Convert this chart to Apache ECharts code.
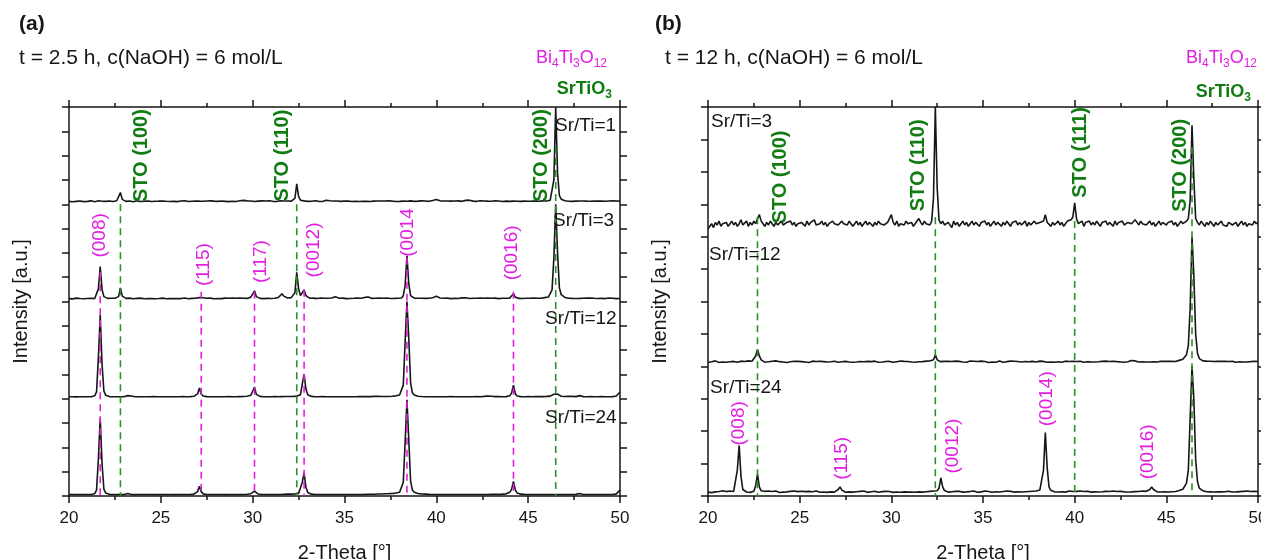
<!DOCTYPE html>
<html>
<head>
<meta charset="utf-8">
<script src="https://cdn.jsdelivr.net/npm/echarts@6/dist/echarts.min.js"></script>
<style>
  html, body { margin: 0; padding: 0; background: #fff; }
  #chart { width: 1261px; height: 560px; }
</style>
</head>
<body>
<div id="chart"></div>
<script>
// XRD patterns: 2-Theta from 20° to 50° in 0.1° steps.
// Intensities are given in % of the height of each stacked layer.
const START = 20, STEP = 0.1;

// (a) t = 2.5 h
const a_srti1 = [
  3,3.5,2.6,3.2,3,2.4,3.4,3.1,2.7,3.3,
  3,2.8,3.5,3.1,2.6,3.2,3.6,2.9,3.1,3.4,
  3,2.7,3.3,3.1,2.8,3.2,3.6,5.5,12,5,
  3.4,3,2.7,3.3,3.1,2.6,3.2,3.5,3,2.8,
  3.3,3.1,2.7,3.4,3,2.9,3.5,3.1,2.6,3.2,
  3,3.4,2.8,3.1,3.6,2.9,3.2,3,3.5,2.7,
  3.1,3.3,2.9,3.6,3,2.8,3.3,3.1,2.7,3.4,
  3,3.2,3.7,3.1,2.8,3.3,3,3.5,2.9,3.2,
  3.4,3,2.8,3.3,3.5,3,3.2,2.7,3.4,3.1,
  3.3,2.9,3.2,3.6,3.1,4,4.6,3.5,3,3.3,
  3.1,2.8,3.4,3.2,3,3.5,2.9,3.3,3.1,3.6,
  3.2,3,3.4,2.8,3.3,3.6,3.1,3.4,3.9,3.3,
  3.5,3.2,3.6,6,21,8,4.2,3.3,3.5,3.1,
  3,3.4,3.1,2.9,3.6,3.2,3,3.4,2.8,3.3,
  4.2,4.8,3.6,3.1,3.4,2.9,3.3,3.6,3,3.2,
  3.4,3,3.2,3.7,2.9,3.3,3.1,3.5,2.8,3.2,
  3.1,3.5,3,3.3,2.9,3.6,3.2,3,3.4,3.1,
  3.3,2.9,3.4,3.1,3.6,3,3.2,3.5,2.9,3.3,
  3,3.4,3.2,3.6,3.1,2.9,3.5,3.2,3,3.4,
  3.2,3,3.5,3.1,3.3,3.6,3,3.4,3.8,4.4,
  4.8,4.2,3.5,3.1,3.4,3,3.3,3.6,3.2,3,
  3.4,3.1,3.5,3.2,3,3.6,4,4.6,4.2,3.5,
  3.2,3.4,3,3.3,3.6,3.1,3.4,3,3.2,3.5,
  3.1,3.3,3.6,3,3.4,3.1,2.9,3.5,3.2,3.3,
  3,3.4,3.2,3.5,3.1,3.3,3,3.6,3.2,3.4,
  3.1,3.5,3.2,3,3.4,3.6,3.1,3.3,3.5,3.2,
  3.4,3.7,4.2,5.5,25,100,32,9,5.2,4,
  3.6,3.3,3.1,3.4,3,3.5,3.2,3,3.3,3.1,
  3.4,3,3.2,3.5,3.1,2.9,3.3,3.6,3.2,3,
  3.3,3.5,3.1,3,3.4,3.2,3.6,3.1,3.3,3,
  3.2
];
const a_srti3 = [
  3,3.4,2.7,3.2,3.5,2.9,3.1,3.4,2.8,3.3,
  3.1,2.9,3.4,3.2,3,4,13,36,12,5,
  3.6,3.2,3,3.4,3.1,3.3,3.6,5,14,5.5,
  3.8,3.2,3,3.5,3.1,2.8,3.4,3.2,3,3.5,
  3.2,2.9,3.4,3.1,3.6,3,3.3,2.8,3.4,3.1,
  3,3.5,3.2,2.9,3.4,3.1,3.6,3,3.3,3.1,
  3.4,3,3.2,3.6,3.1,2.9,3.5,3.2,3,3.4,
  3.2,4,5.5,3.8,3.1,3.4,3,3.5,3.2,2.9,
  3.4,3.1,3.6,3,3.3,3.5,3.1,3.4,3,3.6,
  3.2,3.4,3,3.5,3.1,3.3,3.6,3.2,3.8,4.5,
  5.5,11,5,3.6,3.2,3.4,3,3.5,3.2,3.4,
  3.1,3.5,3.3,3.6,4.2,5.5,8,5.5,4,3.6,
  3.4,4,5.5,9,30,13,6,9,12,6,
  4,3.4,3.1,3.5,3.2,3,3.4,3.6,3.1,3.3,
  3,3.4,3.2,3.6,4.2,5,4,3.3,3.1,3.5,
  3.2,3,3.4,3.1,3.5,3.3,3,3.6,3.2,3.4,
  3.6,4.2,5.2,4.6,3.6,3.2,3,3.4,3.1,3.5,
  3.2,3.4,3,3.6,3.3,3.1,3.5,3.2,3,3.4,
  3.3,3.6,6,16,47,18,6,4,3.5,3.2,
  3.4,3.1,3.3,3.6,3.2,3,3.4,3.5,3.9,4.5,
  5.5,4.5,3.6,3.2,3.4,3.1,3.5,3.2,3,3.4,
  3.2,3.5,3.1,3.4,3.7,4.3,3.8,3.3,3.1,3.5,
  3.3,3,3.4,3.2,3.6,3.1,3.3,3,3.5,3.2,
  3.4,3.1,3.5,3.2,3,3.6,3.3,3.1,3.4,3.2,
  3.5,5,8,4.5,3.6,3.2,3.4,3.1,3.5,3.3,
  3,3.4,3.2,3.6,3.1,3.4,3.7,3.3,3.6,4,
  4.2,4.6,6,12,45,100,50,14,7,5,
  4.2,3.8,3.4,3.6,3.2,3.5,3.1,3.4,3.2,3,
  3.4,3.1,3.5,3.2,3.6,3,3.3,3.5,3.1,3.4,
  3.2,3.5,3,3.3,3.6,3.1,3.4,3.2,3,3.3,
  3.1
];
const a_srti12 = [
  2,2,2.1,2,1.9,2,2.1,2,2,2.1,
  2,2,2.1,2,3,7,42,86,35,8,
  3.5,2.5,2.2,2.1,2,2.1,2,2,2.1,2,
  2.1,2.6,3.2,4,2.8,2.2,2.1,2,2,2.1,
  2,2.1,2,2,2.1,2,2.2,2.1,2,2,
  2.1,2,2,2.2,2.1,2,2,2.1,2,2.2,
  2.1,2,2.2,2.1,2,2.1,2.2,2.3,2.5,3,
  5,11,5,2.9,2.4,2.2,2.1,2,2.1,2,
  2,2.1,2.2,2,2.1,2,2.1,2.2,2,2.1,
  2.2,2,2.1,2.2,2.1,2.3,2.4,2.6,3,3.6,
  5,12,4.5,2.8,2.4,2.2,2.1,2,2.1,2.2,
  2.1,2,2.2,2.1,2,2.1,2.2,2.1,2.3,2.4,
  2.3,2.2,2.4,2.5,2.7,3,4,15,25,10,
  4,2.8,2.4,2.2,2.1,2,2.1,2,2.2,2.1,
  2,2.1,2,2.2,2.1,2,2.1,2,2.1,2.2,
  2.1,2,2.1,2.2,2,2.1,2,2.1,2.2,2.3,
  2.2,2.1,2.2,2.3,2.2,2.3,2.4,2.3,2.5,2.6,
  2.3,2.2,2.3,2.4,2.3,2.5,2.6,2.8,3,3.4,
  3.8,5,14,58,100,62,16,6,3.8,3,
  2.6,2.4,2.3,2.2,2.1,2.2,2.1,2,2.1,2.2,
  2.1,2,2.1,2.2,2,2.1,2,2.1,2.2,2,
  2.1,2.2,2,2.1,2,2.2,2.1,2,2.1,2.2,
  2,2.1,2.2,2,2.1,2.2,2.4,2.6,2.9,3.2,
  2.6,2.3,2.2,2.1,2.2,2.1,2,2.1,2.2,2.4,
  3,6,14,5,2.8,2.3,2.2,2.1,2,2.1,
  2.2,2.1,2,2.1,2.2,2.3,2.2,2.1,2.2,2.3,
  2.4,2.5,2.7,3.2,4.6,6,4.8,3.2,2.6,2.4,
  2.3,2.2,2.6,3.2,2.4,2.1,2.2,2.7,3.2,2.5,
  2.2,2.1,2,2.1,2.2,2,2.1,2.2,2,2.1,
  2.2,2,2.1,2.2,2,2.1,2.2,2.4,2.8,3.6,
  7
];
const a_srti24 = [
  1.5,1.4,1.5,1.6,1.5,1.4,1.5,1.5,1.6,1.5,
  1.5,1.4,1.5,1.6,2.4,6,38,80,33,7,
  3,2,1.7,1.6,1.5,1.5,1.6,1.5,1.4,1.5,
  1.6,1.9,2.5,2,1.6,1.5,1.4,1.5,1.6,1.5,
  1.5,1.6,1.5,1.4,1.5,1.6,1.5,1.5,1.4,1.6,
  1.5,1.4,1.6,1.5,1.5,1.7,1.6,1.5,1.4,1.5,
  1.6,1.5,1.5,1.4,1.6,1.5,1.6,1.7,1.9,2.4,
  4.5,10,4.5,2.2,1.8,1.6,1.5,1.5,1.6,1.5,
  1.4,1.5,1.6,1.5,1.5,1.4,1.6,1.5,1.5,1.6,
  1.5,1.6,1.5,1.4,1.5,1.6,1.7,1.8,2,2.4,
  3.2,5,3,2,1.7,1.6,1.5,1.6,1.5,1.5,
  1.6,1.5,1.4,1.5,1.6,1.5,1.6,1.7,1.8,1.9,
  1.8,1.9,2,2.1,2.3,2.7,3.8,14,24,9,
  3.5,2.3,1.9,1.7,1.6,1.5,1.6,1.5,1.5,1.6,
  1.5,1.6,1.5,1.4,1.6,1.5,1.5,1.6,1.5,1.4,
  1.5,1.6,1.5,1.5,1.6,1.7,1.6,1.5,1.6,1.7,
  1.6,1.7,1.8,1.7,1.8,1.9,1.8,2,2.1,2.2,
  2.1,2.2,2.3,2.2,2.4,2.5,2.6,2.8,3,3.4,
  3.8,5,14,55,99,58,15,6,3.8,3,
  2.6,2.3,2.1,2,1.9,1.8,1.7,1.7,1.6,1.6,
  1.5,1.6,1.5,1.6,1.5,1.4,1.6,1.5,1.5,1.6,
  1.5,1.4,1.5,1.6,1.5,1.6,1.5,1.4,1.5,1.6,
  1.5,1.6,1.5,1.5,1.6,1.5,1.6,1.7,1.6,1.8,
  1.7,1.6,1.7,1.8,1.7,1.8,1.9,2,2.2,2.6,
  3.8,7,15,6,3,2.2,1.9,1.8,1.7,1.6,
  1.6,1.5,1.6,1.5,1.6,1.5,1.6,1.7,1.6,1.5,
  1.6,1.5,1.6,1.7,1.6,1.5,1.6,1.5,1.6,1.5,
  1.6,1.5,1.5,1.6,1.5,1.6,1.7,2,2.5,1.9,
  1.6,1.5,1.6,1.5,1.5,1.6,1.5,1.5,1.6,1.5,
  1.5,1.6,1.5,1.5,1.6,1.5,1.6,1.8,2.2,3,
  6
];

// (b) t = 12 h
const b_srti3 = [
  6,8,10,7,11,9,12,8,10,9,
  11,8,10,12,9,11,8,10,13,9,
  10,12,8,11,9,12,10,14,17,12,
  10,8,11,9,12,10,8,11,9,10,
  12,9,8,11,10,12,9,11,8,10,
  9,11,10,8,12,9,11,10,13,9,
  8,10,12,9,11,8,10,9,12,10,
  11,9,8,12,10,11,9,12,10,8,
  10,12,9,11,8,10,12,9,11,10,
  8,11,9,12,10,11,9,10,11,12,
  17,11,9,12,8,10,11,9,12,10,
  9,11,8,10,11,14,11,9,12,10,
  11,9,12,30,100,38,13,10,12,9,
  8,11,10,7,12,9,11,8,10,12,
  9,11,8,10,12,9,11,10,8,11,
  10,12,9,11,8,10,12,9,11,10,
  8,11,9,12,10,8,11,10,12,9,
  11,9,10,12,8,11,9,10,12,10,
  9,11,10,12,17,11,10,8,11,9,
  10,12,9,11,8,10,12,11,13,15,
  26,14,10,9,12,8,11,10,12,9,
  11,9,12,10,8,11,10,12,9,11,
  10,8,12,9,11,10,12,9,8,11,
  12,10,9,13,11,9,12,10,11,9,
  10,12,9,11,8,10,12,9,11,10,
  9,11,10,12,9,11,8,10,12,10,
  11,12,14,28,86,45,14,11,9,12,
  10,8,11,9,12,10,8,11,9,10,
  12,9,10,8,11,12,9,10,11,8,
  10,12,9,11,8,10,11,9,12,10,
  11
];
const b_srti12 = [
  3,4,3.5,2.8,4.2,3.6,3,4,3.4,3.8,
  3.2,4.1,3.5,3,3.8,4.3,3.1,3.6,4,3.3,
  3.7,3.1,4.2,3.5,3.9,4.5,8,13,8,5,
  3.8,3.2,4,3.5,3,3.9,3.4,4.2,3.1,3.6,
  4,3.3,3.7,3,4.1,3.5,3.2,3.9,3.4,3.8,
  3.1,3.6,4.3,3.3,3.8,3,3.5,4,3.2,3.7,
  3.4,3.9,3.1,3.6,4.2,3.3,3.8,3.5,3,3.9,
  3.6,3.2,4,3.5,3.1,3.8,4.1,3.4,3.7,3.2,
  3.9,3.4,3,3.7,4.2,3.5,3.3,3.8,3.1,3.6,
  3.3,4,3.6,3.2,3.9,3.4,4.3,3.7,3.1,3.8,
  3.5,3.1,3.9,3.6,3.3,4.1,3.4,3.8,3.2,3.7,
  4,3.4,3.7,3.2,3.9,3.5,4.4,3.6,3.3,4,
  3.6,4.1,4.4,5,9,5,4,3.6,3.3,3.8,
  3.4,3.9,3.1,3.7,3.5,4,3.2,3.8,3.6,3.3,
  3.8,3.2,3.6,4.1,3.4,3.9,3.1,3.7,3.5,4,
  3.3,3.7,3.5,3,3.9,3.4,3.8,3.2,3.6,4.2,
  3.5,3.1,3.8,3.6,3.3,4,3.4,3.9,3.2,3.7,
  3.9,3.4,3.2,3.7,4.1,3.5,3,3.8,3.6,3.3,
  3.6,4,3.3,3.8,3.5,3.1,3.9,3.4,3.7,3.2,
  3.8,3.5,3.9,3.2,3.6,4,3.3,3.7,3.4,3.9,
  3.2,3.7,3.4,3.9,3.5,3.1,3.8,3.6,4.2,3.4,
  3.7,3.3,3.9,3.5,3.2,3.8,3.6,4,3.3,3.7,
  3.5,3.9,3.3,3.6,4.1,3.4,3.8,3.2,3.7,3.5,
  3.9,4.5,5.2,4.2,3.6,3.3,3.8,3.5,3.9,3.4,
  3.6,3.3,3.8,3.5,4,3.4,3.7,3.9,3.5,3.8,
  3.4,3.9,3.6,3.8,4.1,3.7,4.3,4.6,5,5.5,
  6,9,16,45,100,70,25,10,6,4.6,
  4.2,3.8,4,3.6,3.9,3.4,3.7,3.5,3.9,3.3,
  3.8,3.5,3.9,3.4,3.7,3.3,3.8,3.6,3.2,3.7,
  3.5,3.9,3.3,3.7,3.4,3.8,3.6,3.2,3.9,3.5,
  3.7
];
const b_srti24 = [
  3,3.6,2.6,3.9,3.2,2.8,3.5,3.1,4,2.9,
  3.4,2.7,3.8,3.1,3.5,5,20,39,15,5,
  3.6,3.1,3.9,2.8,3.4,3.7,8,17,7,4,
  3.2,3.6,2.8,3.9,3.1,3.5,2.9,3.8,3.3,2.7,
  3.5,3,3.8,3.2,2.7,3.6,3.3,3.9,2.9,3.4,
  3.1,3.7,2.8,3.4,3.2,3.6,5,3.3,2.9,3.8,
  3.3,2.9,3.6,3.1,3.9,2.8,3.5,3.2,3.7,3,
  3.6,5,7,4.5,3.3,2.9,3.7,3.2,3.5,3,
  3.8,3.3,2.7,3.6,3.1,3.9,3.2,2.8,3.5,3.3,
  3,3.7,3.2,2.9,3.8,3.4,3.1,3.6,2.8,3.5,
  3.3,2.8,3.7,3.1,3.5,2.9,3.9,3.2,3.6,3,
  3.5,3.1,3.8,2.9,3.4,3.2,3.7,3,3.6,3.3,
  2.9,3.6,3.2,3.9,3.4,4,6,14,7,4.2,
  3.5,3,3.8,3.3,2.9,3.6,3.1,3.7,3.4,3,
  3.7,3.2,2.9,3.5,3.1,3.8,3.3,2.8,3.6,3.2,
  3.4,3.9,3,3.5,3.2,2.9,3.7,3.3,3.6,3.1,
  2.9,3.5,3.2,3.8,3.1,3.6,3.4,3,3.7,3.3,
  3.6,3.1,3.8,3.3,3,3.5,3.2,3.7,3.4,3.9,
  4.2,4.6,6,20,49,22,7,4.4,3.6,3.2,
  3.5,3.1,3.7,3.3,3.6,3,3.4,3.8,3.2,3.5,
  3.1,3.6,3.3,3.8,3,3.5,3.2,3.7,3.4,3,
  3.7,3.2,3.5,3.1,3.8,3.3,2.9,3.6,3.2,3.5,
  3.3,3.8,3.1,3.5,3,3.6,3.4,3.2,3.7,3.1,
  3.6,3.2,3.9,3.4,3.1,3.5,3.3,3.8,3.2,3.6,
  3.8,5,7,5,3.6,3.2,3.5,3.1,3.7,3.3,
  3.4,3.1,3.6,3.3,3.8,3.5,3.9,4.2,4.6,5.2,
  6,10,20,60,100,75,28,11,6,4.5,
  4,3.6,3.3,3.8,3.2,3.5,3.1,3.6,3.3,3.7,
  3.2,3.6,3.3,3,3.7,3.4,3.1,3.5,3.2,3.6,
  3.4,3.1,3.6,3.3,3.8,3.2,3.5,3,3.6,3.4,
  3.5
];

// Reference reflection positions (2-Theta, °)
const stoPeaksA = [22.8, 32.4, 46.5];
const btoPeaksA = [21.7, 27.2, 30.1, 32.8, 38.4, 44.2];
const stoPeaksB = [22.7, 32.4, 40.0, 46.4];

// Reflection labels
const stoLabelsA = ['STO (100)', 'STO (110)', 'STO (200)'];
const btoLabelsA = ['(008)', '(115)', '(117)', '(0012)', '(0014', '(0016)'];
const stoLabelsB = ['STO (100)', 'STO (110)', 'STO (111)', 'STO (200)'];
const btoLabelsB = ['(008)', '(115)', '(0012)', '(0014)', '(0016)'];

// Sample names per stacked layer (top to bottom)
const samplesA = ['Sr/Ti=1', 'Sr/Ti=3', 'Sr/Ti=12', 'Sr/Ti=24'];
const samplesB = ['Sr/Ti=3', 'Sr/Ti=12', 'Sr/Ti=24'];

// ---------------------------------------------------------------------------
const FONT = 'Liberation Sans, Arial, Helvetica, sans-serif';
const MAGENTA = '#e21ee2';
const GREEN = '#117c11';
const INK = '#161616';

function toPairs(vals) {
  return vals.map((v, i) => [+(START + i * STEP).toFixed(1), v]);
}

// Annotation placement in frame units (each layer spans 100 units)
const dashTopA = { sto: [300, 300, 360], bto: [230, 210, 210, 212, 245, 210] };
const dashTopB = { sto: [215, 215, 212, 269] };
const labelPosA = {
  sto: [[23.92, 350], [31.6, 350], [45.75, 350]],
  bto: [[21.69, 268], [27.35, 238], [30.45, 241], [33.34, 253], [38.45, 271], [44.1, 250]]
};
const labelPosB = {
  sto: [[23.98, 246], [31.5, 255], [40.3, 265], [45.75, 255]],
  bto: [[21.69, 56], [27.3, 29], [33.37, 38.5], [38.5, 75], [44.0, 34]]
};

const panels = [
  { left: 69, top: 107, width: 551, height: 389,
    layers: [a_srti1, a_srti3, a_srti12, a_srti24],
    sto: stoPeaksA, bto: btoPeaksA, dash: dashTopA,
    stoText: stoLabelsA, btoText: btoLabelsA, pos: labelPosA },
  { left: 708, top: 107, width: 550, height: 389,
    layers: [b_srti3, b_srti12, b_srti24],
    sto: stoPeaksB, bto: [], dash: dashTopB,
    stoText: stoLabelsB, btoText: btoLabelsB, pos: labelPosB }
];

const grid = [], xAxis = [], yAxis = [], series = [];
const axisLineStyle = { color: INK, width: 1.5 };
const gridBox = (l, t, w, h) => ({ left: l, top: t, width: w, height: h,
  containLabel: false, outerBoundsMode: 'none' });

panels.forEach(p => {
  const n = p.layers.length;
  const frameIdx = grid.length;
  const fx = xAxis.length, fy = yAxis.length;
  grid.push(gridBox(p.left, p.top, p.width, p.height));
  const xBase = {
    gridIndex: frameIdx, type: 'value', min: 20, max: 50, interval: 5,
    axisLine: { show: true, onZero: false, lineStyle: axisLineStyle },
    axisTick: { show: true, length: 7, lineStyle: axisLineStyle },
    minorTick: { show: true, splitNumber: 2, length: 4, lineStyle: axisLineStyle },
    splitLine: { show: false }
  };
  xAxis.push(Object.assign({}, xBase, {
    position: 'bottom',
    axisLabel: { show: true, fontSize: 17, color: INK, fontFamily: FONT, margin: 14 },
    name: '2-Theta [°]', nameLocation: 'middle', nameGap: 47,
    nameTextStyle: { fontSize: 20, color: INK, fontFamily: FONT }
  }));
  xAxis.push(Object.assign({}, xBase, { position: 'top', axisLabel: { show: false } }));
  const yBase = {
    gridIndex: frameIdx, type: 'value', min: 0, max: n * 100, interval: 25,
    axisLine: { show: true, onZero: false, lineStyle: axisLineStyle },
    axisTick: { show: true, length: 7, lineStyle: axisLineStyle },
    axisLabel: { show: false }, splitLine: { show: false }
  };
  yAxis.push(Object.assign({}, yBase, {
    position: 'left',
    name: 'Intensity [a.u.]', nameLocation: 'middle', nameGap: 38,
    nameTextStyle: { fontSize: 20, color: INK, fontFamily: FONT }
  }));
  yAxis.push(Object.assign({}, yBase, { position: 'right' }));

  // stacked layers, one per sample
  const h = p.height / n;
  p.layers.forEach((vals, k) => {
    const gi = grid.length;
    grid.push(gridBox(p.left, p.top + k * h, p.width, h));
    const xi = xAxis.length, yi = yAxis.length;
    xAxis.push({ gridIndex: gi, type: 'value', min: 20, max: 50, show: false });
    yAxis.push({ gridIndex: gi, type: 'value', min: 0, max: 100, show: false });
    series.push({
      type: 'line', xAxisIndex: xi, yAxisIndex: yi, data: toPairs(vals),
      symbol: 'none', showSymbol: false, clip: true, silent: true, z: 2,
      lineStyle: { color: INK, width: 1.6 }
    });
  });

  // dashed reflection markers
  const dash = (x, top, color) => series.push({
    type: 'line', xAxisIndex: fx, yAxisIndex: fy, data: [[x, top], [x, 0]],
    symbol: 'none', silent: true, z: 4,
    lineStyle: { color: color, width: 1.6, type: [7, 5] }
  });
  p.sto.forEach((x, i) => dash(x, p.dash.sto[i], '#2b8f2b'));
  p.bto.forEach((x, i) => dash(x, p.dash.bto[i], MAGENTA));

  // rotated reflection labels
  const labelSeries = (texts, pos, color, weight, size) => series.push({
    type: 'scatter', xAxisIndex: fx, yAxisIndex: fy, silent: true, z: 6,
    symbolSize: 0, itemStyle: { color: 'rgba(0,0,0,0)', opacity: 1 },
    data: texts.map((t, i) => ({ name: t, value: pos[i] })),
    label: {
      show: true, position: 'inside', rotate: 90, formatter: '{b}',
      color: color, opacity: 1, fontSize: size, fontWeight: weight, fontFamily: FONT,
      align: 'center', verticalAlign: 'middle'
    },
    labelLayout: { hideOverlap: false }
  });
  labelSeries(p.stoText, p.pos.sto, GREEN, 'bold', 20);
  labelSeries(p.btoText, p.pos.bto, MAGENTA, 'normal', 19);
});

// ---------------------------------------------------------------------------
const text = (x, y, str, opts) => ({
  type: 'text', x: x, y: y, silent: true, z: 10,
  style: Object.assign({ text: str, fill: INK, font: '21px ' + FONT,
    align: 'left', verticalAlign: 'middle' }, opts || {})
});
const formula = (x, y, parts, color, weight) => ({
  type: 'text', x: x, y: y, silent: true, z: 10,
  style: {
    text: parts.map((s, i) => (i % 2 ? '{s|' : '{m|') + s + '}').join(''),
    align: 'right', verticalAlign: 'middle', fill: color,
    rich: {
      m: { fontSize: 18, fontFamily: FONT, fontWeight: weight, fill: color },
      s: { fontSize: 12, fontFamily: FONT, fontWeight: weight, fill: color, padding: [11, 0, 0, 0] }
    }
  }
});

const graphic = [
  text(19, 24, '(a)', { font: 'bold 21px ' + FONT }),
  text(655, 24, '(b)', { font: 'bold 21px ' + FONT }),
  text(19, 58, 't = 2.5 h, c(NaOH) = 6 mol/L'),
  text(665, 58, 't = 12 h, c(NaOH) = 6 mol/L'),
  formula(607, 58, ['Bi', '4', 'Ti', '3', 'O', '12'], MAGENTA, 'normal'),
  formula(612, 89, ['SrTiO', '3'], GREEN, 'bold'),
  formula(1257, 58, ['Bi', '4', 'Ti', '3', 'O', '12'], MAGENTA, 'normal'),
  formula(1251, 92, ['SrTiO', '3'], GREEN, 'bold')
];
const sampleY = [[126, 221, 319, 418], [122, 255, 388]];
const sampleX = [[555, 553, 545, 545], [711, 709, 710]];
[samplesA, samplesB].forEach((names, p) => names.forEach((s, k) =>
  graphic.push(text(sampleX[p][k], sampleY[p][k], s, { font: '19px ' + FONT }))));

const chart = echarts.init(document.getElementById('chart'), null, { renderer: 'canvas' });
chart.setOption({
  animation: false,
  backgroundColor: '#ffffff',
  grid: grid, xAxis: xAxis, yAxis: yAxis, series: series, graphic: graphic
});
</script>
</body>
</html>
